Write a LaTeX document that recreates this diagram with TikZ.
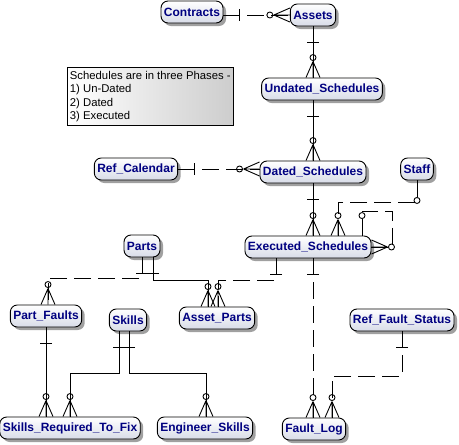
\documentclass[tikz,border=0pt]{standalone}
\usepackage{fontspec}
\setmainfont{Liberation Sans}
\usetikzlibrary{shadows,calc}
\definecolor{enttext}{RGB}{0,0,128}
\definecolor{entbot}{RGB}{216,220,232}
\definecolor{shadowc}{RGB}{160,160,160}
\definecolor{notegray}{RGB}{205,205,205}
\tikzset{
  manyend/.pic={\draw[solid,line width=0.9pt] (0pt,16pt) -- (-7pt,0pt) (0pt,16pt) -- (7pt,0pt) (0pt,16pt) -- (0pt,0pt);
                \draw[solid,line width=0.9pt] (0pt,20pt) circle[radius=3pt];},
  barend/.pic={\draw[solid,line width=0.9pt] (-6pt,16pt) -- (6pt,16pt);},
  circend/.pic={\draw[solid,line width=0.9pt] (0pt,20pt) circle[radius=3pt];}
}
\begin{document}
\begin{tikzpicture}[x=1pt,y=-1pt,
  ent/.style={draw=black, line width=0.9pt, rounded corners=7pt, top color=white, bottom color=entbot,
    text=enttext, font=\bfseries\fontsize{12}{14}\selectfont, minimum height=22pt, inner xsep=3pt, inner ysep=0pt,
    drop shadow={shadow xshift=3pt, shadow yshift=-3pt, fill=shadowc, opacity=1}},
  rel/.style={line width=0.9pt},
  nonid/.style={rel, dash pattern=on 17pt off 7pt},
  notebox/.style={draw=black, line width=0.9pt, left color=white, right color=notegray, align=left,
    font=\fontsize{11.3}{13.5}\selectfont, minimum width=162pt, minimum height=58pt, inner xsep=2.5pt, inner ysep=2pt}]
\fill[white] (0,0) rectangle (459,445);
\useasboundingbox (0,0) rectangle (459,445);

\node[notebox, anchor=north west] (note) at (67,67) {Schedules are in three Phases -\\1) Un-Dated\\2) Dated\\3) Executed};

\node[ent] (contracts) at (192,12) {Contracts};
\node[ent] (assets) at (313,15) {Assets};
\node[ent] (undated) at (322,89) {Undated\_Schedules};
\node[ent] (refcal) at (136,169) {Ref\_Calendar};
\node[ent] (dated) at (313,172) {Dated\_Schedules};
\node[ent] (staff) at (417,169) {Staff};
\node[ent] (exec) at (308,247) {Executed\_Schedules};
\node[ent] (parts) at (142,246) {Parts};
\node[ent] (pf) at (46,316) {Part\_Faults};
\node[ent] (skills) at (128,320) {Skills};
\node[ent] (ap) at (217,318) {Asset\_Parts};
\node[ent] (srtf) at (70,428) {Skills\_Required\_To\_Fix};
\node[ent] (eng) at (205,428) {Engineer\_Skills};
\node[ent] (rfs) at (402,320) {Ref\_Fault\_Status};
\node[ent] (fl) at (314,429) {Fault\_Log};

% Contracts - Assets
\draw[nonid] (contracts.east |- assets.west) -- (assets.west);
\pic[rotate=-90] at (contracts.east |- assets.west) {barend};
\pic[rotate=90] at (assets.west) {manyend};
% Assets - Undated
\draw[rel] (assets.south) -- (assets.south |- undated.north);
\pic[rotate=180] at (assets.south) {barend};
\pic at (assets.south |- undated.north) {manyend};
% Undated - Dated
\draw[rel] (dated.north |- undated.south) -- (dated.north);
\pic[rotate=180] at (dated.north |- undated.south) {barend};
\pic at (dated.north) {manyend};
% Ref_Calendar - Dated
\draw[nonid] (refcal.east) -- (refcal.east -| dated.west);
\pic[rotate=-90] at (refcal.east) {barend};
\pic[rotate=90] at (refcal.east -| dated.west) {manyend};
% Dated - Executed
\draw[rel] (dated.south) -- (dated.south |- exec.north);
\pic[rotate=180] at (dated.south) {barend};
\pic at (dated.south |- exec.north) {manyend};
% Staff - Executed
\draw[nonid] (staff.south) |- ($(exec.north)+(30,-33)$) -- ($(exec.north)+(30,0)$);
\pic[rotate=180] at (staff.south) {circend};
\pic at ($(exec.north)+(30,0)$) {manyend};
% Executed self
\draw[nonid] ($(exec.north)+(54,0)$) |- ($(exec.east)+(21,-36)$) |- (exec.east);
\pic at ($(exec.north)+(54,0)$) {circend};
\pic[rotate=-90] at (exec.east) {manyend};
% Executed - Asset_Parts
\draw[nonid] ($(exec.south)+(-32,0)$) |- ($(ap.north)+(1,-26)$) -- ($(ap.north)+(1,0)$);
\pic[rotate=180] at ($(exec.south)+(-32,0)$) {barend};
\pic at ($(ap.north)+(1,0)$) {manyend};
% Parts - Asset_Parts
\draw[rel] ($(parts.south)+(11,0)$) |- ($(ap.north)+(-9,-26)$) -- ($(ap.north)+(-9,0)$);
\pic[rotate=180] at ($(parts.south)+(11,0)$) {barend};
\pic at ($(ap.north)+(-9,0)$) {manyend};
% Parts - Part_Faults
\draw[nonid] (parts.south) |- ($(pf.north)+(2,-26)$) -- ($(pf.north)+(2,0)$);
\pic[rotate=180] at (parts.south) {barend};
\pic at ($(pf.north)+(2,0)$) {manyend};
% Part_Faults - SRTF
\draw[rel] (pf.south) -- (pf.south |- srtf.north);
\pic[rotate=180] at (pf.south) {barend};
\pic at (pf.south |- srtf.north) {manyend};
% Skills - SRTF
\draw[rel] ($(skills.south)+(-9,0)$) |- ($(srtf.north)+(0,-43)$) -- (srtf.north);
\pic[rotate=180] at ($(skills.south)+(-9,0)$) {barend};
\pic at (srtf.north) {manyend};
% Skills - Engineer_Skills
\draw[rel] ($(skills.south)+(1,0)$) |- ($(eng.north)+(1,-43)$) -- ($(eng.north)+(1,0)$);
\pic[rotate=180] at ($(skills.south)+(1,0)$) {barend};
\pic at ($(eng.north)+(1,0)$) {manyend};
% Executed - Fault_Log
\draw[nonid] ($(exec.south)+(5,0)$) -- ($(fl.north)+(-1,0)$);
\pic[rotate=180] at ($(exec.south)+(5,0)$) {barend};
\pic at ($(fl.north)+(-1,0)$) {manyend};
% Ref_Fault_Status - Fault_Log
\draw[nonid] (rfs.south) |- ($(fl.north)+(18,-41)$) -- ($(fl.north)+(18,0)$);
\pic[rotate=180] at (rfs.south) {barend};
\pic at ($(fl.north)+(18,0)$) {manyend};
\end{tikzpicture}
\end{document}
